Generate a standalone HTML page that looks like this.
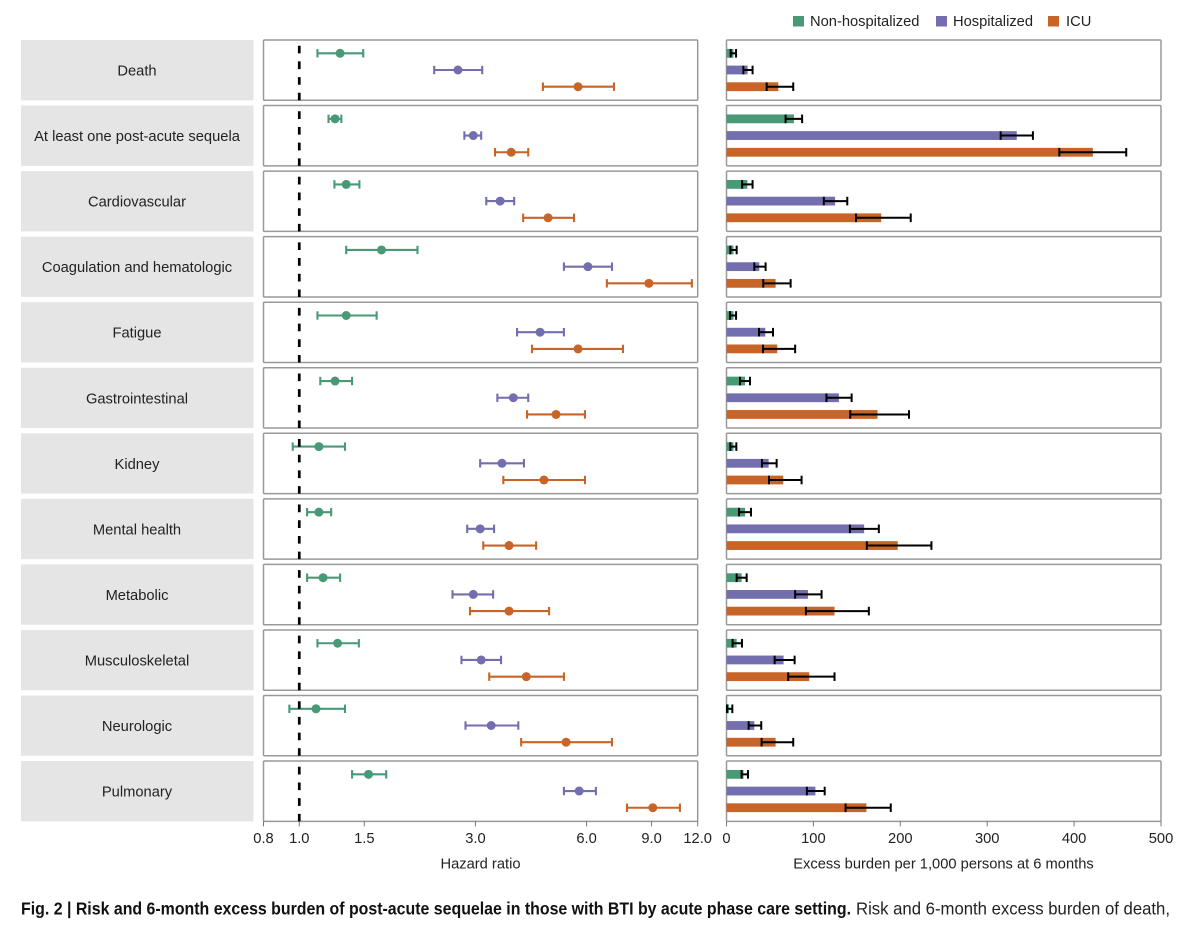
<!DOCTYPE html>
<html lang="en">
<head>
<meta charset="utf-8">
<title>Risk and 6-month excess burden of post-acute sequelae</title>
<style>
html,body{margin:0;padding:0;background:#fff;width:1200px;height:925px;overflow:hidden}
svg{display:block;font-family:"Liberation Sans",sans-serif}
</style>
</head>
<body>
<svg id="chart" xmlns="http://www.w3.org/2000/svg" width="1200" height="925" viewBox="0 0 1200 925">
  <g font-size="14.7" fill="#222">
    <rect x="793" y="16" width="11" height="10.5" fill="#489a77"/>
    <text x="810" y="26">Non-hospitalized</text>
    <rect x="936" y="16" width="11" height="10.5" fill="#736eae"/>
    <text x="953" y="26">Hospitalized</text>
    <rect x="1048" y="16" width="11" height="10.5" fill="#c86427"/>
    <text x="1066" y="26">ICU</text>
  </g>
  <g id="rows"></g>
  <g id="axes"></g>
  <text x="480.5" y="868.5" font-size="14.7" text-anchor="middle" fill="#222">Hazard ratio</text>
  <text x="943.5" y="868.5" font-size="14.7" text-anchor="middle" fill="#222">Excess burden per 1,000 persons at 6 months</text>
  <text x="21" y="914.5" font-size="17.5" font-weight="bold" fill="#111" textLength="830" lengthAdjust="spacingAndGlyphs">Fig. 2 | Risk and 6-month excess burden of post-acute sequelae in those with BTI by acute phase care setting.</text>
  <text x="856" y="914.5" font-size="17.5" fill="#222" textLength="314" lengthAdjust="spacingAndGlyphs">Risk and 6-month excess burden of death,</text>
</svg>
<script>
const categories = ["Death","At least one post-acute sequela","Cardiovascular","Coagulation and hematologic","Fatigue","Gastrointestinal","Kidney","Mental health","Metabolic","Musculoskeletal","Neurologic","Pulmonary"];
const seriesNames = ["Non-hospitalized","Hospitalized","ICU"];
const seriesColors = ["#489a77","#736eae","#c86427"];

const hrNonHosp = [[1.12,1.29,1.49],[1.20,1.25,1.30],[1.245,1.34,1.455],[1.34,1.67,2.09],[1.12,1.34,1.62],[1.14,1.25,1.39],[0.96,1.13,1.33],[1.05,1.13,1.22],[1.05,1.16,1.29],[1.12,1.27,1.45],[0.94,1.11,1.33],[1.39,1.54,1.72]];
const hrHosp = [[2.32,2.69,3.13],[2.80,2.96,3.11],[3.21,3.50,3.82],[5.21,6.05,7.03],[3.89,4.49,5.21],[3.44,3.80,4.17],[3.09,3.54,4.06],[2.85,3.09,3.37],[2.60,2.96,3.35],[2.75,3.11,3.52],[2.82,3.31,3.92],[5.21,5.73,6.36]];
const hrIcu = [[4.57,5.69,7.12],[3.39,3.75,4.17],[4.04,4.72,5.55],[6.81,8.85,11.57],[4.27,5.69,7.53],[4.14,4.96,5.94],[3.57,4.60,5.94],[3.15,3.70,4.38],[2.90,3.70,4.75],[3.27,4.12,5.21],[3.99,5.28,7.03],[7.72,9.07,10.74]];

const burdenNonHosp = [[4.8,8,11],[68,77.6,87],[18,24,30],[4.4,8,11.7],[4,8,11],[15.5,21.3,27],[4.4,8,11.3],[14.4,21.3,28.2],[11.7,17.4,23.2],[7,11.7,17.8],[0.6,3,6.7],[17.4,19.5,24.7]];
const burdenHosp = [[19.4,24.3,30],[315.5,334,352.6],[112,125,139],[32,37.7,45],[37.4,44.6,53.5],[115,129.3,144],[40.8,48.5,57.7],[142,158.4,175.3],[79,93.7,109.4],[55.4,65.7,78.4],[25.5,32,40],[92.5,102.3,113]];
const burdenIcu = [[46.2,59.6,76.8],[383,421.6,460],[149,178,212],[42.3,56.5,73.8],[42,58.4,79],[142.4,173.8,210],[48.9,65.3,86.4],[161.5,197,235.8],[91.4,124.3,163.8],[71,95.2,124.3],[40.4,56.5,76.8],[137,161,189]];

const hrTicks = [0.8,1,1.5,3,6,9,12];
const hrTickLabels = ["0.8","1.0","1.5","3.0","6.0","9.0","12.0"];
const burdenTicks = [0,100,200,300,400,500];

const hrSeries = [hrNonHosp, hrHosp, hrIcu];
const burdenSeries = [burdenNonHosp, burdenHosp, burdenIcu];

const LEFT0 = 263.5, LEFT1 = 697.7, RIGHT0 = 726.5, RIGHT1 = 1161;
function xHR(v){ return LEFT0 + (LEFT1 - LEFT0) * Math.log(v / 0.8) / Math.log(12 / 0.8); }
function xBurden(v){ return RIGHT0 + (RIGHT1 - RIGHT0) * v / 500; }
const rowTop = i => 40 + 65.55 * i;
const ROW_H = 60.3;
const seriesOffset = [13.3, 30, 46.7];

const NS = "http://www.w3.org/2000/svg";
function mk(parent, tag, attrs, text){
  const el = document.createElementNS(NS, tag);
  for (const k in attrs) el.setAttribute(k, attrs[k]);
  if (text !== undefined) el.textContent = text;
  parent.appendChild(el);
  return el;
}
const slug = s => s.toLowerCase().replace(/[^a-z0-9]+/g, "-");
const rowsG = document.getElementById("rows");
const axesG = document.getElementById("axes");

categories.forEach((cat, i) => {
  const top = rowTop(i), s = slug(cat);
  const g = mk(rowsG, "g", {});
  
  

  const strip = mk(g, "rect", {x:21, y:top, width:232.5, height:ROW_H, fill:"#e5e5e5"});
  
  
  const label = mk(g, "text", {x:137, y:top + 35.5, "font-size":14.7, "text-anchor":"middle", fill:"#222"}, cat);
  
  

  const hrPanel = mk(g, "rect", {x:LEFT0, y:top, width:LEFT1 - LEFT0, height:ROW_H, fill:"#fff", stroke:"#999", "stroke-width":1.5, rx:1});
  
  
  const burdenPanel = mk(g, "rect", {x:RIGHT0, y:top, width:RIGHT1 - RIGHT0, height:ROW_H, fill:"#fff", stroke:"#999", "stroke-width":1.5, rx:1});
  
  

  seriesNames.forEach((name, k) => {
    const y = top + seriesOffset[k], c = seriesColors[k], sn = slug(name);
    const [lo, mid, hi] = hrSeries[k][i];
    const pt = mk(g, "g", {stroke:c, "stroke-width":2.1, fill:c});
    
    
    mk(pt, "line", {x1:xHR(lo), x2:xHR(hi), y1:y, y2:y});
    mk(pt, "line", {x1:xHR(lo), x2:xHR(lo), y1:y - 4.2, y2:y + 4.2});
    mk(pt, "line", {x1:xHR(hi), x2:xHR(hi), y1:y - 4.2, y2:y + 4.2});
    mk(pt, "circle", {cx:xHR(mid), cy:y, r:4.5, stroke:"none"});

    const [blo, bval, bhi] = burdenSeries[k][i];
    const bar = mk(g, "rect", {x:xBurden(0), y:y - 4.4, width:xBurden(bval) - xBurden(0), height:8.8, fill:c});
    
    
    const err = mk(g, "g", {stroke:"#000", "stroke-width":2});
    
    
    mk(err, "line", {x1:xBurden(blo), x2:xBurden(bhi), y1:y, y2:y});
    mk(err, "line", {x1:xBurden(blo), x2:xBurden(blo), y1:y - 4.3, y2:y + 4.3});
    mk(err, "line", {x1:xBurden(bhi), x2:xBurden(bhi), y1:y - 4.3, y2:y + 4.3});
  });

  const ref = mk(g, "line", {x1:xHR(1), x2:xHR(1), y1:top + 5.7, y2:top + ROW_H, stroke:"#000", "stroke-width":2.7, "stroke-dasharray":"7.7 8"});
  
  
});

const axisBase = rowTop(categories.length - 1) + ROW_H;
hrTicks.forEach((t, i) => {
  const tick = mk(axesG, "line", {x1:xHR(t), x2:xHR(t), y1:axisBase, y2:axisBase + 5, stroke:"#777", "stroke-width":1});
  
  
  const lab = mk(axesG, "text", {x:xHR(t), y:843, "font-size":14.7, "text-anchor":"middle", fill:"#222"}, hrTickLabels[i]);
  
  
});
burdenTicks.forEach(t => {
  const tick = mk(axesG, "line", {x1:xBurden(t), x2:xBurden(t), y1:axisBase, y2:axisBase + 5, stroke:"#777", "stroke-width":1});
  
  
  const lab = mk(axesG, "text", {x:xBurden(t), y:843, "font-size":14.7, "text-anchor":"middle", fill:"#222"}, String(t));
  
  
});
</script>
</body>
</html>
